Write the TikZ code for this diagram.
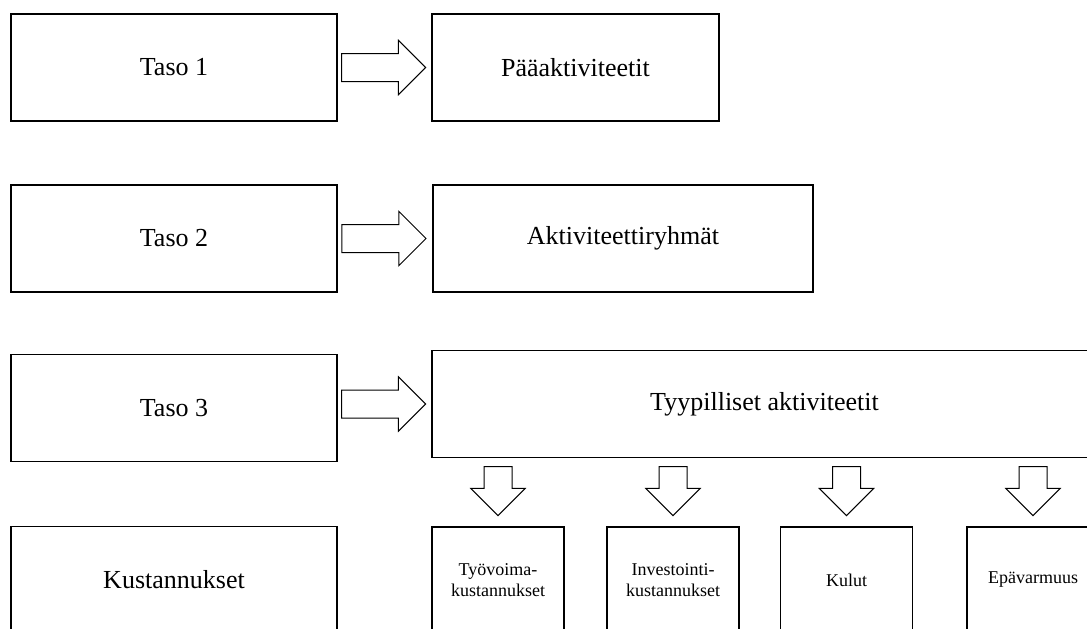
\documentclass[tikz,border=0pt]{standalone}
\usepackage{fontspec}
\setmainfont{Liberation Serif}
\usetikzlibrary{shapes.arrows}

\tikzset{
    level/.style={rectangle, draw, line width=0.7pt, minimum width=163pt, minimum height=53.5pt, inner sep=0pt, font=\fontsize{13}{15}\selectfont},
    cost/.style={rectangle, draw, line width=0.7pt, minimum width=66pt, minimum height=53pt, inner sep=0pt, align=center, font=\fontsize{9}{10.5}\selectfont},
    hollow/.style={single arrow, draw, line width=0.5pt, inner sep=6.75pt, single arrow head extend=6.6pt},
    harrow/.style={hollow, minimum height=42pt},
    varrow/.style={hollow, minimum height=24.5pt, shape border rotate=270}
}

\begin{document}
\begin{tikzpicture}[x=0.5pt, y=-0.5pt]
                \clip (0,0) rectangle (1087,628);

                \node[level] (taso1) at (174, 67.5) {Taso 1};
                \node[level, minimum width=143.5pt] (paa) at (575.5, 67.5) {Pääaktiviteetit};
                \node[level] (taso2) at (174, 238.5) {Taso 2};
                \node[level, minimum width=190pt] (ryhmat) at (623, 238.5) {Aktiviteettiryhmät};
                \node[level] (taso3) at (174, 408) {Taso 3};
                \node[level, minimum width=332.5pt] (tyyp) at (764.5, 404) {Tyypilliset aktiviteetit};
                \node[level] (kust) at (174, 580) {Kustannukset};

                \node[cost] (tyovoima) at (498, 580) {Työvoima-\\kustannukset};
                \node[cost] (invest) at (673, 580) {Investointi-\\kustannukset};
                \node[cost] (kulut) at (846.5, 580) {Kulut};
                \node[cost] (epavarmuus) at (1033, 580) {Epävarmuus};

                \node[harrow, anchor=tip] (h1) at ([xshift=-2.5pt]paa.west) {};
                \node[harrow, anchor=tip] (h2) at ([xshift=-2.8pt]ryhmat.west) {};
                \node[harrow, anchor=tip] (h3) at ([xshift=-2.5pt]tyyp.west) {};

                \node[varrow, anchor=tip] (v1) at ([yshift=5pt]tyovoima.north) {};
                \node[varrow, anchor=tip] (v2) at ([yshift=5pt]invest.north) {};
                \node[varrow, anchor=tip] (v3) at ([yshift=5pt]kulut.north) {};
                \node[varrow, anchor=tip] (v4) at ([yshift=5pt]epavarmuus.north) {};
            \end{tikzpicture}
\end{document}
